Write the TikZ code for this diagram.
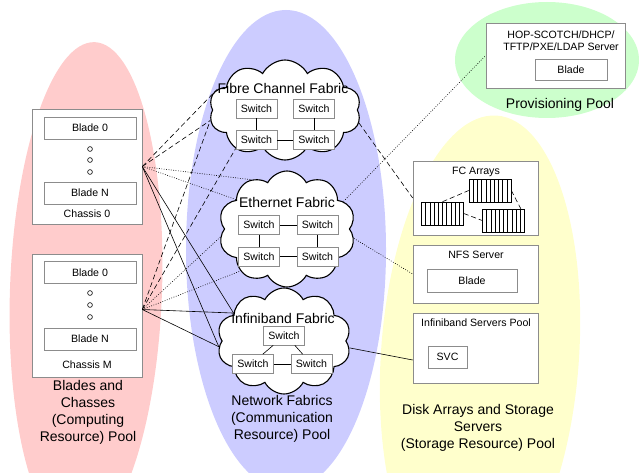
\documentclass[tikz,border=0pt]{standalone}
\usepackage{fontspec}
\setmainfont{Liberation Sans}
\usetikzlibrary{shapes.symbols,shadows,calc}

\definecolor{computepool}{RGB}{255,204,204}
\definecolor{networkpool}{RGB}{204,204,255}
\definecolor{storagepool}{RGB}{255,255,204}
\definecolor{provisionpool}{RGB}{204,255,204}

\newcommand{\boxfont}{\fontsize{10.6}{12.5}\selectfont}
\newcommand{\poolfont}{\fontsize{14}{17}\selectfont}

\begin{document}
\begin{tikzpicture}[x=1pt,y=-1pt,
        whitebox/.style={draw=black!45,fill=white,line width=.6pt,inner sep=0pt,font=\boxfont,
            drop shadow={shadow xshift=.7pt,shadow yshift=-.7pt,fill=black,opacity=1}},
        bladebox/.style={whitebox,minimum width=92pt,minimum height=22pt},
        switchbox/.style={whitebox,minimum width=41pt,minimum height=19pt},
        fabric/.style={cloud,cloud puffs=10,cloud puff arc=125,draw,line width=1.1pt,fill=white,inner sep=0pt},
        diskarray/.style={draw,fill=white,line width=.6pt,minimum width=42pt,minimum height=23pt,inner sep=0pt,
            path picture={
                \foreach \i in {1,...,9}
                    \draw [line width=.5pt] ($(path picture bounding box.north west)!\i/10!(path picture bounding box.north east)$)
                        -- ($(path picture bounding box.south west)!\i/10!(path picture bounding box.south east)$);
            }},
        boxtext/.style={font=\boxfont,inner sep=0pt},
        pooltext/.style={font=\poolfont,align=center,inner sep=0pt},
        dashedlink/.style={line width=.6pt,dash pattern=on 5pt off 3pt},
        dottedlink/.style={line width=.6pt,dash pattern=on .8pt off 1.6pt},
        solidlink/.style={line width=.6pt},
    ]
                \useasboundingbox (0,0) rectangle (639,473);
                \clip (0,0) rectangle (639,473);

                % the four pools
                \fill [computepool,rotate around={-2:(86,290)}] (86,290) ellipse [x radius=76,y radius=248];
                \fill [networkpool] (286,250) ellipse [x radius=100,y radius=240];
                \fill [storagepool,rotate around={-4:(480,355)}] (480,355) ellipse [x radius=99,y radius=240];
                \fill [provisionpool] (547,60) ellipse [x radius=92,y radius=58];

                % computing resource pool
                \node [whitebox,minimum width=110pt,minimum height=115pt] (ch0) at (87,166.5) {};
                \node [bladebox] (ch0b0) at (90,128) {Blade 0};
                \node [bladebox] (ch0bN) at (90,193) {Blade N};
                \node [boxtext] (ch0name) at (87,214) {Chassis 0};

                \node [whitebox,minimum width=110pt,minimum height=123pt] (chM) at (87,315.5) {};
                \node [bladebox] (chMb0) at (90,272.5) {Blade 0};
                \node [bladebox] (chMbN) at (90,339) {Blade N};
                \node [boxtext] (chMname) at (87,365) {Chassis M};

                \foreach \y in {149,160,172,293,305,317}
                    \draw [line width=.6pt] (90,\y) circle (2.4pt);

                \node [pooltext] (computename) at (88,412) {Blades and\\Chasses\\(Computing\\Resource) Pool};

                % network fabrics
                \node [fabric,minimum width=152pt,minimum height=100pt] (fc) at (285,110) {};
                \node [pooltext] (fcname) at (283,88) {Fibre Channel Fabric};
                \node [switchbox] (fc1) at (256.5,108.5) {Switch};
                \node [switchbox] (fc2) at (314,108.5) {Switch};
                \node [switchbox] (fc3) at (256.5,140) {Switch};
                \node [switchbox] (fc4) at (314,140) {Switch};
                \draw [line width=.6pt] (fc1) -- (fc3);
                \draw [line width=.6pt] (fc2) -- (fc4);
                \draw [line width=.6pt] (fc3) -- (fc4);

                \node [fabric,minimum width=137pt,minimum height=116pt] (eth) at (287,229) {};
                \node [pooltext] (ethname) at (287,202) {Ethernet Fabric};
                \node [switchbox] (eth1) at (259,225) {Switch};
                \node [switchbox] (eth2) at (317.5,225) {Switch};
                \node [switchbox] (eth3) at (259,256.5) {Switch};
                \node [switchbox] (eth4) at (317.5,256.5) {Switch};
                \draw [line width=.6pt] (eth1) -- (eth2);
                \draw [line width=.6pt] (eth3) -- (eth4);
                \draw [line width=.6pt] (eth1) -- (eth3);
                \draw [line width=.6pt] (eth2) -- (eth4);

                \node [fabric,minimum width=134pt,minimum height=106pt] (ib) at (284,341) {};
                \node [pooltext] (ibname) at (283,318) {Infiniband Fabric};
                \node [switchbox] (ib1) at (284,335.5) {Switch};
                \node [switchbox] (ib2) at (253,364) {Switch};
                \node [switchbox] (ib3) at (311.5,364) {Switch};
                \draw [line width=.6pt] ([xshift=10pt]ib1.south west) -- ([xshift=-11pt]ib2.north east);
                \draw [line width=.6pt] ([xshift=-10pt]ib1.south east) -- ([xshift=12pt]ib3.north west);
                \draw [line width=.6pt] (ib2) -- (ib3);

                \node [pooltext] (networkname) at (282,419) {Network Fabrics\\(Communication\\Resource) Pool};

                % storage resource pool
                \node [whitebox,minimum width=125pt,minimum height=74pt] (fcarrays) at (475.5,198) {};
                \node [boxtext] (fcarraysname) at (476,172) {FC Arrays};
                \node [diskarray] (disk1) at (490,190.5) {};
                \node [diskarray] (disk2) at (442.5,213.5) {};
                \node [diskarray] (disk3) at (503.5,220.5) {};
                \draw [dashedlink] (disk2.north) -- (disk1.west);
                \draw [dashedlink] (disk2.east) -- (disk3.west);
                \draw [dashedlink] (disk1.east) -- ([xshift=-4pt]disk3.north east);

                \node [whitebox,minimum width=125pt,minimum height=58pt] (nfs) at (475.5,274) {};
                \node [boxtext] (nfsname) at (476,255) {NFS Server};
                \node [whitebox,minimum width=90pt,minimum height=23pt] (nfsblade) at (472,280.5) {Blade};

                \node [whitebox,minimum width=125pt,minimum height=70pt] (ibsrv) at (475.5,348) {};
                \node [boxtext] (ibsrvname) at (476,323) {Infiniband Servers Pool};
                \node [whitebox,minimum width=39pt,minimum height=22pt] (svc) at (447.5,357) {SVC};

                \node [pooltext] (storagename) at (478,428) {Disk Arrays and Storage\\Servers\\(Storage Resource) Pool};

                % provisioning pool
                \node [whitebox,minimum width=139pt,minimum height=65pt] (hop) at (555.5,55.5) {};
                \node [boxtext,align=center] (hopname) at (561,40.5) {HOP-SCOTCH/DHCP/\\TFTP/PXE/LDAP Server};
                \node [whitebox,minimum width=72pt,minimum height=21pt] (hopblade) at (571,69.5) {Blade};
                \node [pooltext] (provisionname) at (560,105) {Provisioning Pool};

                % links from the chassis
                \foreach \ch/\dy in {ch0/0,chM/6}
                {
                    \draw [solidlink] ([yshift=\dy pt]\ch.east) -- (ib.151);
                    \draw [solidlink] ([yshift=\dy pt]\ch.east) -- (ib.185);
                }
                \draw [dashedlink] (ch0.east) -- (fc.163);
                \draw [dashedlink] (ch0.east) -- (fc.188);
                \draw [dashedlink] ([yshift=6pt]chM.east) -- (fc.188);
                \draw [dashedlink] ([yshift=6pt]chM.east) -- (fc.218);
                \draw [dottedlink] (ch0.east) -- (eth.126);
                \draw [dottedlink] (ch0.east) -- (eth.150);
                \draw [dottedlink] ([yshift=6pt]chM.east) -- (eth.187);
                \draw [dottedlink] ([yshift=6pt]chM.east) -- (eth.222);

                % links to storage and provisioning
                \draw [dashedlink] (fc.350) -- (fcarrays.west);
                \draw [dottedlink] (eth.26) -- (hop.west);
                \draw [dottedlink] (eth.352) -- (nfs.west);
                \draw [solidlink] (ib.354) -- ([yshift=-12pt]ibsrv.west);
            \end{tikzpicture}
\end{document}
